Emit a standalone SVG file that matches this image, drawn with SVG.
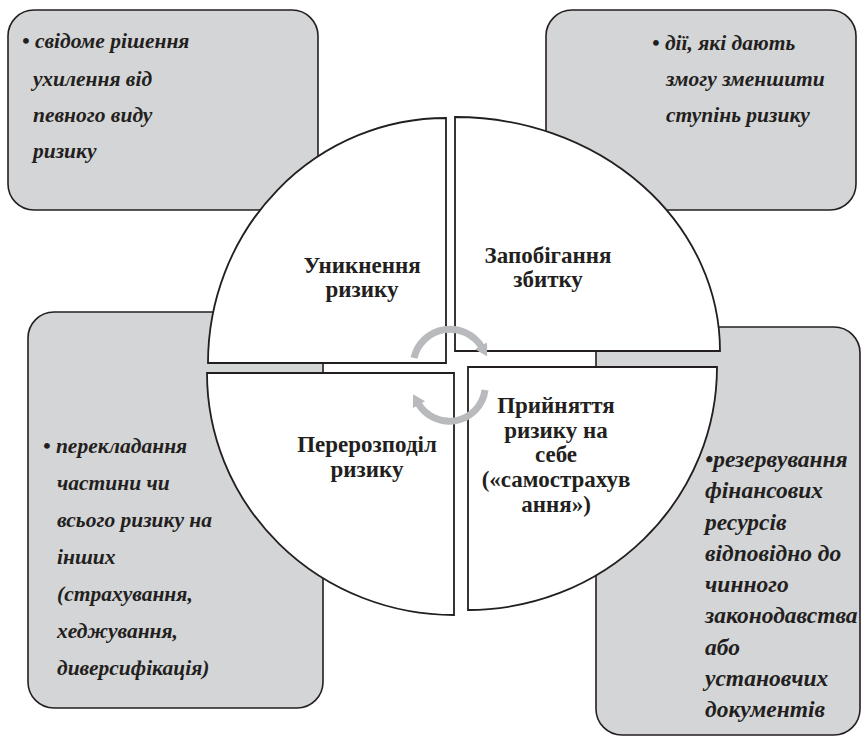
<svg xmlns="http://www.w3.org/2000/svg" width="862" height="738" viewBox="0 0 862 738">
<style>
.box{fill:#d4d5d7;stroke:#231f20;stroke-width:1.6}
.q{fill:#ffffff;stroke:#231f20;stroke-width:1.8}
.t{font-family:'Liberation Serif','DejaVu Serif',serif;font-weight:bold;font-style:italic;font-size:21.5px;fill:#231f20}
.t2{font-size:23.5px}
.c{font-family:'Liberation Serif','DejaVu Serif',serif;font-weight:bold;font-size:23px;fill:#231f20;text-anchor:middle}
.arr{fill:none;stroke:#b8babd;stroke-width:7}
</style>
<defs>
<marker id="ah" markerUnits="userSpaceOnUse" markerWidth="18" markerHeight="18" refX="2" refY="8" orient="auto">
<path d="M0,1 L12,8 L0,15 Z" fill="#b8babd"/>
</marker>
</defs>
<g id="box-tl">
<rect class="box" x="8" y="10" width="310" height="200" rx="26"/>
</g>
<g id="box-tr">
<rect class="box" x="546" y="10" width="310" height="200" rx="26"/>
</g>
<g id="box-bl">
<rect class="box" x="28" y="312" width="295" height="396" rx="26"/>
</g>
<g id="box-br">
<rect class="box" x="596" y="327" width="264" height="408" rx="26"/>
</g>
<g id="q-tl">
<path class="q" d="M446,363 L208,363 A238,245 0 0 1 446,118 Z"/>
<text class="c" x="362" y="273">Уникнення</text>
<text class="c" x="362" y="297">ризику</text>
</g>
<g id="q-tr">
<path class="q" d="M455,351 L455,117 A265,234 0 0 1 720,351 Z"/>
<text class="c" x="548" y="263">Запобігання</text>
<text class="c" x="548" y="287">збитку</text>
</g>
<g id="q-bl">
<path class="q" d="M454,373 L454,615 A247,242 0 0 1 207,373 Z"/>
<text class="c" x="367" y="452">Перерозподіл</text>
<text class="c" x="367" y="477">ризику</text>
</g>
<g id="q-br">
<path class="q" d="M468,367 L717,367 A249,243 0 0 1 468,610 Z"/>
<text class="c" x="556" y="413">Прийняття</text>
<text class="c" x="556" y="438">ризику на</text>
<text class="c" x="556" y="462">себе</text>
<text class="c" x="556" y="487">(«самострахув</text>
<text class="c" x="556" y="512">ання»)</text>
</g>
<g id="connectors">
<path class="arr" d="M414,358 A37,37 0 0 1 482,347.5" marker-end="url(#ah)"/>
<path class="arr" d="M485,390 A36,36 0 0 1 418,403" marker-end="url(#ah)"/>
</g>
<g id="text-tl">
<text class="t" x="22" y="48">• свідоме рішення</text>
<text class="t" x="33" y="86">ухилення від</text>
<text class="t" x="33" y="122">певного виду</text>
<text class="t" x="33" y="158">ризику</text>
</g>
<g id="text-tr">
<text class="t" x="652" y="50">• дії, які дають</text>
<text class="t" x="666" y="86">змогу зменшити</text>
<text class="t" x="666" y="122">ступінь ризику</text>
</g>
<g id="text-bl">
<text class="t" x="43" y="453">• перекладання</text>
<text class="t" x="57" y="490">частини чи</text>
<text class="t" x="57" y="527">всього ризику на</text>
<text class="t" x="57" y="564">інших</text>
<text class="t" x="57" y="601">(страхування,</text>
<text class="t" x="57" y="638">хеджування,</text>
<text class="t" x="57" y="675">диверсифікація)</text>
</g>
<g id="text-br">
<text class="t t2" x="705" y="467">•резервування</text>
<text class="t t2" x="705" y="498">фінансових</text>
<text class="t t2" x="705" y="530">ресурсів</text>
<text class="t t2" x="705" y="561">відповідно до</text>
<text class="t t2" x="705" y="592">чинного</text>
<text class="t t2" x="705" y="623">законодавства</text>
<text class="t t2" x="705" y="655">або</text>
<text class="t t2" x="705" y="686">установчих</text>
<text class="t t2" x="705" y="717">документів</text>
</g>
</svg>
